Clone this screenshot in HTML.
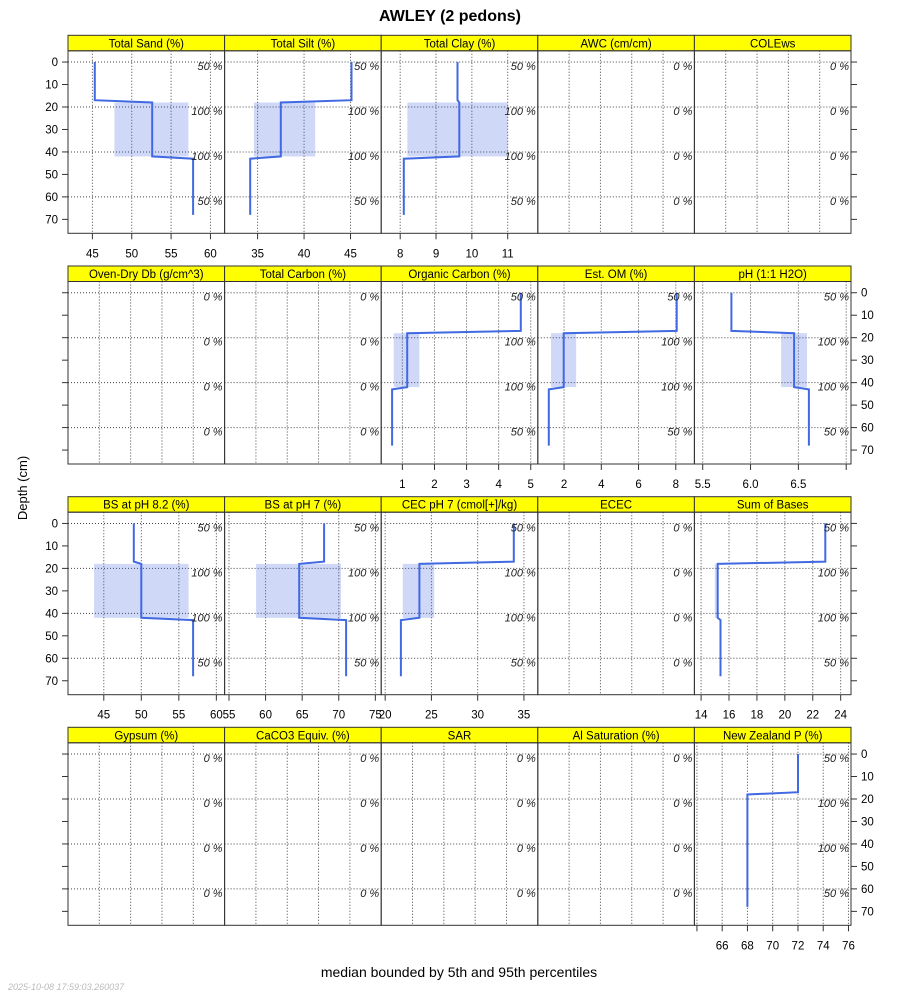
<!DOCTYPE html>
<html><head><meta charset="utf-8"><title>AWLEY</title>
<style>
html,body{margin:0;padding:0;background:#fff;}
svg{display:block;font-family:"Liberation Sans",sans-serif;}
</style></head>
<body>
<svg id="chart" width="900" height="1000" viewBox="0 0 900 1000" xmlns="http://www.w3.org/2000/svg">
<text x="450" y="21" text-anchor="middle" font-size="16" font-weight="bold">AWLEY (2 pedons)</text>
<text transform="translate(27,488) rotate(-90)" text-anchor="middle" font-size="13">Depth (cm)</text>
<text x="459" y="977" text-anchor="middle" font-size="14">median bounded by 5th and 95th percentiles</text>
<text x="8" y="990" font-size="9" font-style="italic" fill="#bbb">2025-10-08 17:59:03.260037</text>
<g id="panels"></g>
</svg>
<script>
const panelTitles = ["Total Sand (%)","Total Silt (%)","Total Clay (%)","AWC (cm/cm)","COLEws",
 "Oven-Dry Db (g/cm^3)","Total Carbon (%)","Organic Carbon (%)","Est. OM (%)","pH (1:1 H2O)",
 "BS at pH 8.2 (%)","BS at pH 7 (%)","CEC pH 7 (cmol[+]/kg)","ECEC","Sum of Bases",
 "Gypsum (%)","CaCO3 Equiv. (%)","SAR","Al Saturation (%)","New Zealand P (%)"];
const xMin = [41.9,31.45,7.47,0,0, 0,0,0.34,0.59,5.413, 40.23,54.4,19.57,0,13.52, 0,0,0,0,63.8];
const xMax = [61.8,48.3,11.84,5,5, 5,5,5.22,9.0,7.05, 61.1,75.8,36.5,5,24.74, 5,5,5,5,76.2];
const tickVals = [[45,50,55,60],[35,40,45],[8,9,10,11],null,null,
 null,null,[1,2,3,4,5],[2,4,6,8],[5.5,6,6.5,7],
 [45,50,55,60],[55,60,65,70,75],[20,25,30,35],null,[14,16,18,20,22,24],
 null,null,null,null,[64,66,68,70,72,74,76]];
const tickLabels = [["45","50","55","60"],["35","40","45"],["8","9","10","11"],null,null,
 null,null,["1","2","3","4","5"],["2","4","6","8"],["5.5","6.0","6.5",""],
 ["45","50","55","60"],["55","60","65","70","75"],["20","25","30","35"],null,["14","16","18","20","22","24"],
 null,null,null,null,["","66","68","70","72","74","76"]];
const seg1Vals = [45.3,45.1,9.6,null,null, null,null,4.69,8.05,5.80, 49.0,68.0,33.9,null,22.9, null,null,null,null,72];
const seg2Vals = [52.6,37.5,9.65,null,null, null,null,1.15,1.98,6.455, 50.0,64.6,23.7,null,15.19, null,null,null,null,68];
const seg3Vals = [57.8,34.2,8.1,null,null, null,null,0.68,1.18,6.61, 56.9,71.0,21.7,null,15.39, null,null,null,null,68];
const bandLow = [47.8,34.6,8.2,null,null, null,null,0.73,1.3,6.32, 43.7,58.7,21.9,null,14.98, null,null,null,null,68];
const bandHigh = [57.2,41.2,11.0,null,null, null,null,1.53,2.65,6.59, 56.3,70.3,25.3,null,15.19, null,null,null,null,68];
const depthBreaks = [0,17,18,42,43,68];
const pctFull = ["50 %","100 %","100 %","50 %"];
const pctEmpty = ["0 %","0 %","0 %","0 %"];
const depthTicks = [0,10,20,30,40,50,60,70];
const gridDepths = [0,20,40,60];

const NS="http://www.w3.org/2000/svg";
const root=document.getElementById('panels');
function mk(tag,attrs,parent){const e=document.createElementNS(NS,tag);for(const k in attrs)e.setAttribute(k,attrs[k]);(parent||root).appendChild(e);return e;}
const colX=[68,224.6,381.2,537.8,694.4,851];
const rowTop=[35.3,266,496.7,727.3];
const stripH=15.5, panelH=182.5;
const dMin=-5, dMax=76.2;

for(let i=0;i<20;i++){
  const r=Math.floor(i/5), c=i%5;
  const x0=colX[c], x1=colX[c+1], w=x1-x0;
  const sy=rowTop[r], py=sy+stripH, pb=py+panelH;
  const g=mk('g',{});
  
  
  const xs=v=>x0+(v-xMin[i])/(xMax[i]-xMin[i])*w;
  const ys=d=>py+(d-dMin)/(dMax-dMin)*panelH;
  const st=mk('rect',{x:x0,y:sy,width:w,height:stripH,fill:'#ffff00',stroke:'#333','stroke-width':1},g);
  
  
  const stt=mk('text',{x:x0+w/2,y:sy+12,'text-anchor':'middle','font-size':11.5},g);
  stt.textContent=panelTitles[i];
  
  
  const gv = tickVals[i] ? tickVals[i] : [1,2,3,4];
  gv.forEach(v=>{const X=xs(v); if(X>x0+1&&X<x1-1){const l=mk('line',{x1:X,x2:X,y1:py,y2:pb,stroke:'#444','stroke-dasharray':'1,2','stroke-width':1},g);
    
    }});
  gridDepths.forEach(d=>{const l=mk('line',{x1:x0,x2:x1,y1:ys(d),y2:ys(d),stroke:'#444','stroke-dasharray':'1,2','stroke-width':1},g);
    
    });
  if(seg1Vals[i]!==null){
    const bl=Math.min(xs(bandLow[i]),xs(bandHigh[i])), bw=Math.max(Math.abs(xs(bandHigh[i])-xs(bandLow[i])),0);
    if(bw>0.5){const b=mk('rect',{x:bl,y:ys(depthBreaks[2]),width:bw,height:ys(depthBreaks[3])-ys(depthBreaks[2]),fill:'#4169e1','fill-opacity':0.25},g);
      
      }
    const pts=[[seg1Vals[i],depthBreaks[0]],[seg1Vals[i],depthBreaks[1]],[seg2Vals[i],depthBreaks[2]],[seg2Vals[i],depthBreaks[3]],[seg3Vals[i],depthBreaks[4]],[seg3Vals[i],depthBreaks[5]]];
    const pl=mk('polyline',{points:pts.map(p=>xs(p[0]).toFixed(1)+','+ys(p[1]).toFixed(1)).join(' '),fill:'none',stroke:'#4169e1','stroke-width':2},g);
    
    
  }
  const pl2 = seg1Vals[i]!==null ? pctFull : pctEmpty;
  gridDepths.forEach((d,k)=>{const t=mk('text',{x:x1-2,y:ys(d)+8,'text-anchor':'end','font-size':11,'font-style':'italic',fill:'#222'},g);
    t.textContent=pl2[k];
    
    });
  const fr=mk('rect',{x:x0,y:py,width:w,height:panelH,fill:'none',stroke:'#333','stroke-width':1},g);
  
  
  if(tickVals[i]){
    tickVals[i].forEach((v,k)=>{const X=xs(v);
      const tl=mk('line',{x1:X,x2:X,y1:pb,y2:pb+6,stroke:'#333'},g);
      
      
      if(tickLabels[i][k]){const t=mk('text',{x:X,y:pb+24,'text-anchor':'middle','font-size':11.5},g);
        t.textContent=tickLabels[i][k];
        
        }
    });
  }
  if(c===0||c===4){
    const left=c===0;
    const ax=left?x0:x1;
    depthTicks.forEach(d=>{const Y=ys(d);
      const tl=mk('line',{x1:ax,x2:left?ax-6:ax+6,y1:Y,y2:Y,stroke:'#333'},g);
      
      
      const showLabel = left ? (r%2===0) : (r%2===1);
      if(showLabel){const t=mk('text',{x:left?ax-10:ax+10,y:Y+4,'text-anchor':left?'end':'start','font-size':11.5},g);
        t.textContent=String(d);
        
        }
    });
  }
}
</script>
</body></html>
